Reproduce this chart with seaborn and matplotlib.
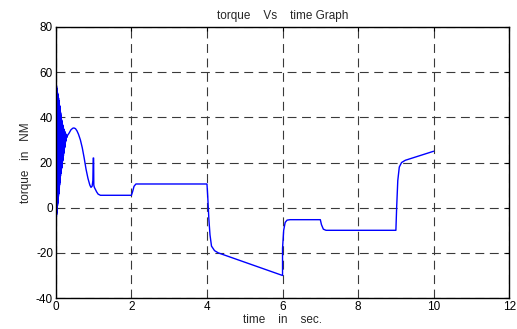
import matplotlib
matplotlib.use("Agg")
import matplotlib.pyplot as plt
import seaborn as sns
import pandas as pd

# Initial oscillation (t, torque): alternating peaks / troughs
osc_time = [0.000, 0.003, 0.006, 0.009, 0.012, 0.015, 0.018, 0.021, 0.024, 0.027,
            0.030, 0.033, 0.036, 0.039, 0.042, 0.045, 0.048, 0.051, 0.054, 0.057,
            0.060, 0.063, 0.066, 0.069, 0.072, 0.075, 0.078, 0.081, 0.084, 0.087,
            0.090, 0.093, 0.096, 0.099, 0.102, 0.105, 0.108, 0.111, 0.114, 0.117,
            0.120, 0.123, 0.126, 0.129, 0.132, 0.135, 0.138, 0.141, 0.144, 0.147,
            0.150, 0.153, 0.156, 0.159, 0.162, 0.165, 0.168, 0.171, 0.174, 0.177,
            0.180, 0.183, 0.186, 0.189, 0.192, 0.195, 0.198, 0.201, 0.204, 0.207,
            0.210, 0.213, 0.216, 0.219, 0.222, 0.225, 0.228, 0.231, 0.234, 0.237,
            0.240, 0.243, 0.246, 0.249, 0.252, 0.255, 0.258, 0.261, 0.264, 0.267,
            0.270, 0.273, 0.276, 0.279, 0.282, 0.285, 0.288, 0.291, 0.294, 0.297]
osc_torque = [60, -8, 57, -6, 55, -4, 54, -3, 53, -2,
              52, -1, 51.5, 0, 51, 1, 50.5, 2, 50, 3,
              49.5, 4, 49, 5, 48.5, 6, 47.5, 7, 47, 8,
              46, 9, 45.5, 10, 45, 11, 44, 12, 43, 13,
              42.5, 14, 42, 15, 41, 15.5, 40.5, 16.5, 40, 17,
              39, 17.5, 38.5, 18, 38, 19, 37.5, 20, 37, 20.5,
              36.5, 21, 36, 22, 36, 22.5, 35.5, 23, 35, 24,
              34.5, 24.5, 34.5, 25, 34, 26, 34, 26.5, 33.5, 27,
              33.5, 28, 33, 28.5, 33, 29, 32.5, 29.5, 32.5, 30,
              32.5, 30.5, 32, 31, 32, 31, 32, 31.5, 32, 31.5]

# Remaining response (t, torque)
rest_time = [0.31, 0.35, 0.40, 0.45, 0.48, 0.52, 0.56, 0.60, 0.65, 0.70,
             0.75, 0.80, 0.85, 0.90, 0.93, 0.96, 0.98, 0.99, 1.00, 1.005,
             1.02, 1.05, 1.08, 1.12, 1.18, 1.25, 2.00, 2.03, 2.07, 2.12,
             2.20, 4.00, 4.02, 4.05, 4.08, 4.12, 4.20, 4.30, 6.00, 6.00,
             6.03, 6.07, 6.12, 6.20, 7.00, 7.03, 7.08, 7.15, 9.00, 9.02,
             9.05, 9.09, 9.15, 9.25, 10.00]
rest_torque = [32, 33, 34.5, 35.2, 35.3, 35, 34, 32.5, 30, 26.5,
               22, 17, 13, 10, 9, 9.5, 12, 22, 22, 10,
               9, 8, 7, 6, 5.5, 5.5, 5.5, 7, 9.5, 10.5,
               10.5, 10.5, 5, -5, -12, -17, -19, -20, -30, -18,
               -10, -6.5, -5.5, -5.3, -5.3, -7.5, -9.5, -10, -10, 0,
               12, 18, 20, 21, 25]

x_ticks = [0, 2, 4, 6, 8, 10, 12]
y_ticks = [-40, -20, 0, 20, 40, 60, 80]

df = pd.DataFrame({"time": osc_time + rest_time, "torque": osc_torque + rest_torque})

sns.set_style("white")
plt.rcParams["font.family"] = ["Liberation Sans", "DejaVu Sans"]
plt.rcParams["axes.unicode_minus"] = False

fig = plt.figure(figsize=(5.17, 3.29), dpi=100)
ax = fig.add_axes([0.108, 0.094, 0.877, 0.824])

sns.lineplot(data=df, x="time", y="torque", ax=ax, sort=False, estimator=None,
             color="#0000ff", linewidth=1.0)

ax.set_xlim(0, 12)
ax.set_ylim(-40, 80)
ax.set_xticks(x_ticks)
ax.set_yticks(y_ticks)
ax.tick_params(direction="in", length=3, width=0.8, top=True, right=True,
               labelsize=8.5, colors="black", pad=2)
for s in ax.spines.values():
    s.set_visible(True)
    s.set_color("black")
    s.set_linewidth(1.0)

ax.grid(True, color="#3a3a3a", linestyle=(0, (8, 5)), linewidth=0.8)
ax.set_axisbelow(True)

ax.set_title("torque    Vs    time Graph", fontsize=8.5, pad=6)
ax.set_xlabel("time    in    sec.", fontsize=8.5, labelpad=1)
ax.set_ylabel("torque   in   NM", fontsize=8.5, labelpad=3)

fig.savefig("out.png", dpi=100)
